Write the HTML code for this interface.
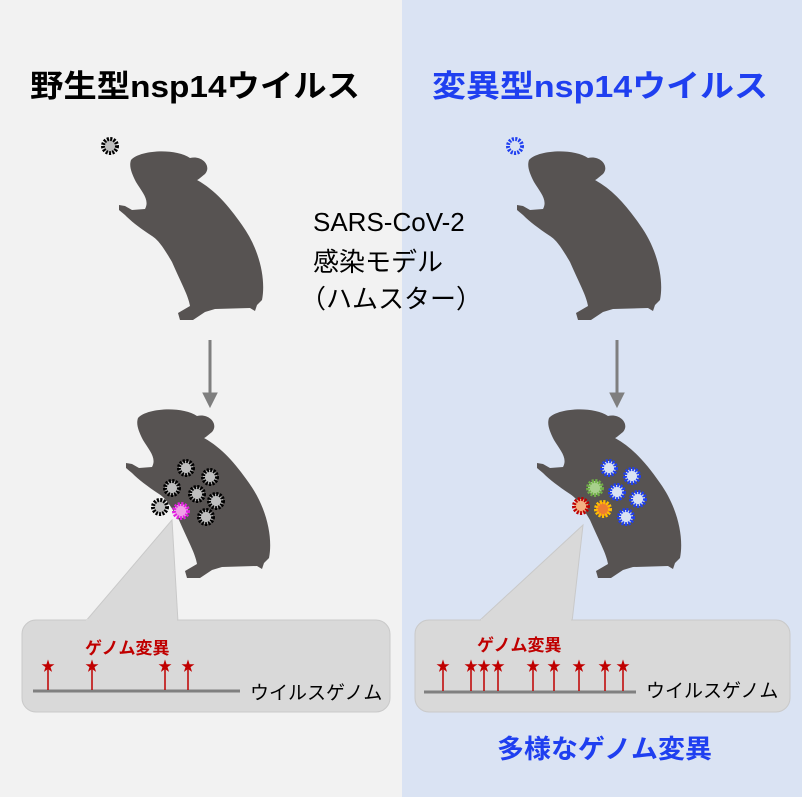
<!DOCTYPE html>
<html><head><meta charset="utf-8"><style>
body{margin:0;width:802px;height:797px;overflow:hidden;font-family:"Liberation Sans","Noto Sans CJK JP",sans-serif}
</style></head><body>
<svg width="802" height="797" viewBox="0 0 802 797" xmlns="http://www.w3.org/2000/svg" font-family="Liberation Sans, Noto Sans CJK JP, sans-serif">
<defs>
<path id="h" d="M131,160 C140,150 175,148 190,158 C202,155 212,166 205,174 C200,178 198,180 197,180 C215,190 228,205 242,225 C260,250 266,280 262,300 L257,305 L255,311 L250,308 L215,309 L205,312 L193,320 L180,320 L178,313 L190,306 C188,295 182,285 172,262 C162,245 158,240 152,236 C140,228 132,222 125,215 L119,210 L119,205 L125,206 L132,210 L145,209 C150,200 142,192 136,182 C131,172 129,166 131,160 Z" fill="#575352"/>
</defs>
<rect x="0" y="0" width="402" height="797" fill="#f2f2f2"/>
<rect x="402" y="0" width="400" height="797" fill="#dae3f3"/>
<text x="30" y="97" font-size="31" font-weight="bold" fill="#000" textLength="330" lengthAdjust="spacingAndGlyphs">野生型nsp14ウイルス</text>
<text x="432" y="97" font-size="31" font-weight="bold" fill="#1f3ff0" textLength="336" lengthAdjust="spacingAndGlyphs">変異型nsp14ウイルス</text>
<use href="#h"/>
<use href="#h" transform="translate(7,258)"/>
<use href="#h" transform="translate(398,0)"/>
<use href="#h" transform="translate(418,258)"/>
<text font-size="26" fill="#000"><tspan x="313" y="231">SARS-CoV-2</tspan><tspan x="313" y="271">感染モデル</tspan><tspan x="300" y="308">（ハムスター）</tspan></text>
<g fill="#7f7f7f" stroke="#7f7f7f">
<line x1="210" y1="340" x2="210" y2="395" stroke-width="3"/><polygon points="203,393 217,393 210,407"/>
<line x1="617" y1="340" x2="617" y2="395" stroke-width="3"/><polygon points="610,393 624,393 617,407"/>
</g>
<g stroke-width="4" stroke-dasharray="2 1.3">
<circle cx="110" cy="146" r="7" fill="#bfbfbf" stroke="#000"/>
<circle cx="515" cy="146" r="7" fill="#dae3f3" stroke="#1f3ff0"/>
<g fill="#bfbfbf" stroke="#000">
<circle cx="186" cy="468" r="7"/><circle cx="210" cy="477" r="7"/><circle cx="172" cy="488" r="7"/><circle cx="197" cy="494" r="7"/><circle cx="216" cy="501" r="7"/><circle cx="160" cy="507" r="7"/><circle cx="206" cy="517" r="7"/>
</g>
<circle cx="181" cy="511" r="7" fill="#f0a0e8" stroke="#e020e0"/>
<g fill="#dae3f3" stroke="#1f3ff0">
<circle cx="609" cy="468" r="7"/><circle cx="632" cy="476" r="7"/><circle cx="617" cy="492" r="7"/><circle cx="638" cy="499" r="7"/><circle cx="626" cy="517" r="7"/>
</g>
<circle cx="595" cy="488" r="7" fill="#a8d08d" stroke="#70ad47"/>
<circle cx="581" cy="506" r="7" fill="#f4b183" stroke="#c00000"/>
<circle cx="603" cy="509" r="7" fill="#ed7d31" stroke="#ffc000"/>
</g>
<g fill="#d9d9d9" stroke="#c9c9c9" stroke-width="1">
<polygon points="172,520 85,622 178,622"/>
<rect x="22" y="620" width="368" height="92" rx="14"/>
<polygon points="583,525 478,622 572,622"/>
<rect x="415" y="620" width="375" height="92" rx="14"/>
</g>
<rect x="86" y="619" width="91" height="3" fill="#d9d9d9"/>
<rect x="481" y="619" width="90" height="3" fill="#d9d9d9"/>
<line x1="33" y1="691" x2="240" y2="691" stroke="#808080" stroke-width="3"/>
<line x1="424" y1="692" x2="636" y2="692" stroke="#808080" stroke-width="3"/>
<g stroke="#c00000" stroke-width="1.5">
<line x1="48" y1="668" x2="48" y2="690"/><line x1="92" y1="668" x2="92" y2="690"/><line x1="165" y1="668" x2="165" y2="690"/><line x1="188" y1="668" x2="188" y2="690"/>
<line x1="443" y1="668" x2="443" y2="691"/><line x1="471" y1="668" x2="471" y2="691"/><line x1="484" y1="668" x2="484" y2="691"/><line x1="498" y1="668" x2="498" y2="691"/><line x1="533" y1="668" x2="533" y2="691"/><line x1="554" y1="668" x2="554" y2="691"/><line x1="579" y1="668" x2="579" y2="691"/><line x1="605" y1="668" x2="605" y2="691"/><line x1="623" y1="668" x2="623" y2="691"/>
</g>
<g fill="#c00000" font-size="14" text-anchor="middle">
<text x="48" y="671">★</text><text x="92" y="671">★</text><text x="165" y="671">★</text><text x="188" y="671">★</text>
<text x="443" y="671">★</text><text x="471" y="671">★</text><text x="484" y="671">★</text><text x="498" y="671">★</text><text x="533" y="671">★</text><text x="554" y="671">★</text><text x="579" y="671">★</text><text x="605" y="671">★</text><text x="623" y="671">★</text>
</g>
<text x="85" y="654" font-size="17" font-weight="bold" fill="#c00000">ゲノム変異</text>
<text x="477" y="651" font-size="17" font-weight="bold" fill="#c00000">ゲノム変異</text>
<text x="250" y="699" font-size="19" fill="#000">ウイルスゲノム</text>
<text x="646" y="697" font-size="19" fill="#000">ウイルスゲノム</text>
<text x="497" y="758" font-size="26" font-weight="bold" fill="#1f3ff0" textLength="215" lengthAdjust="spacingAndGlyphs">多様なゲノム変異</text>
</svg>
</body></html>
